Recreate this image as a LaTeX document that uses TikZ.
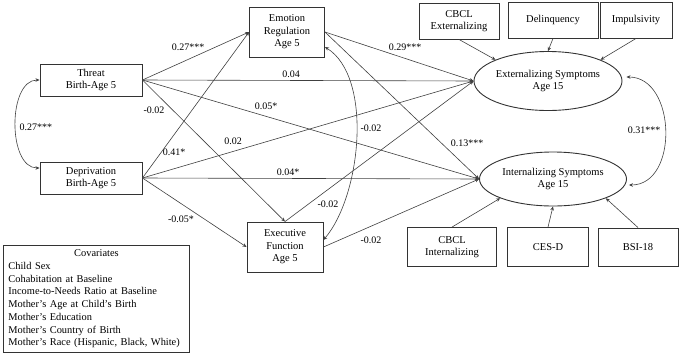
\documentclass[tikz,border=0pt]{standalone}
\usepackage{fontspec}
\setmainfont{Liberation Serif}
\usetikzlibrary{arrows.meta,shapes.geometric}
\tikzset{
  mbox/.style={
    rectangle,
    draw=black!80,
    line width=0.9pt,
    align=center,
    inner sep=1pt,
    font=\fontsize{10.5}{12.5}\selectfont
  },
  latent/.style={
    ellipse,
    draw=black!80,
    line width=0.9pt,
    align=center,
    inner sep=0pt,
    font=\fontsize{10.5}{12.5}\selectfont
  },
  covbox/.style={
    rectangle,
    draw=black!80,
    line width=0.9pt,
    align=left,
    text width=176pt,
    inner xsep=5pt,
    inner ysep=3pt,
    minimum height=107pt,
    font=\fontsize{10.4}{12.7}\selectfont
  },
  patharc/.style={
    -{Stealth[length=4pt,width=3.5pt]},
    draw=black!75,
    line width=0.6pt
  },
  covarc/.style={
    {Stealth[length=4pt,width=3.5pt]}-{Stealth[length=4pt,width=3.5pt]},
    draw=black!75,
    line width=0.6pt
  },
  coef/.style={
    font=\fontsize{10}{11}\selectfont,
    inner sep=1pt
  }
}

\begin{document}
\begin{tikzpicture}[x=1pt,y=-1pt]
  \useasboundingbox (0,0) rectangle (680,354);

  % predictors and mediators
  \node[mbox,minimum width=102pt,minimum height=32pt] (thr) at (91,80) {Threat\\Birth-Age 5};
  \node[mbox,minimum width=102pt,minimum height=32pt] (dep) at (91,178) {Deprivation\\Birth-Age 5};
  \node[mbox,minimum width=75pt,minimum height=50pt] (emo) at (287,32) {Emotion\\Regulation\\Age 5};
  \node[mbox,minimum width=76pt,minimum height=50pt] (exf) at (285,247) {Executive\\Function\\Age 5};

  % outcomes
  \node[latent,minimum width=148pt,minimum height=59pt] (ext) at (548,81) {Externalizing Symptoms\\Age 15};
  \node[latent,minimum width=147pt,minimum height=54pt] (int) at (553,179) {Internalizing Symptoms\\Age 15};

  % indicators
  \node[mbox,minimum width=80pt,minimum height=36pt] (cbe) at (459,21) {CBCL\\Externalizing};
  \node[mbox,minimum width=90pt,minimum height=36pt] (del) at (553,20) {Delinquency};
  \node[mbox,minimum width=72pt,minimum height=36pt] (imp) at (636,20) {Impulsivity};
  \node[mbox,minimum width=89pt,minimum height=39pt] (cbi) at (452,247) {CBCL\\Internalizing};
  \node[mbox,minimum width=81pt,minimum height=39pt] (cesd) at (548,247) {CES-D};
  \node[mbox,minimum width=80pt,minimum height=38pt] (bsi) at (638,247) {BSI-18};

  % covariates
  \node[covbox,anchor=north west] (cov) at (3,245) {\makebox[176pt]{Covariates}\\
    Child Sex\\
    Cohabitation at Baseline\\
    Income-to-Needs Ratio at Baseline\\
    Mother's Age at Child's Birth\\
    Mother's Education\\
    Mother's Country of Birth\\
    Mother's Race (Hispanic, Black, White)};

  % paths from threat and deprivation
  \draw[patharc] (thr.east) -- (emo.west);
  \draw[patharc] (thr.east) -- (ext.west);
  \draw[patharc] (thr.east) -- (int.west);
  \draw[patharc] (thr.east) -- (exf.north);
  \draw[patharc] (dep.east) -- (emo.west);
  \draw[patharc] (dep.east) -- (ext.west);
  \draw[patharc] (dep.east) -- (int.west);
  \draw[patharc] (dep.east) -- (exf.west);

  % paths from mediators
  \draw[patharc] (emo.east) -- (ext.west);
  \draw[patharc] (emo.east) -- (int.west);
  \draw[patharc] (exf.north) -- (ext.west);
  \draw[patharc] (exf.east) -- (int.west);

  % indicators
  \draw[patharc] (cbe.south) -- (ext.158);
  \draw[patharc] (del.south) -- (ext.north);
  \draw[patharc] (imp.south) -- (ext.22);
  \draw[patharc] (cbi.north) -- (int.200);
  \draw[patharc] (cesd.north) -- (int.south);
  \draw[patharc] (bsi.north) -- (int.340);

  % covariances
  \draw[covarc] (thr.west) .. controls +(-32,0) and +(-32,0) .. ([yshift=10pt]dep.west);
  \draw[covarc] ([yshift=-15pt]emo.east) .. controls +(48,30) and +(38,-45) .. ([yshift=7pt]exf.east);
  \draw[covarc] ([shift={(4pt,4pt)}]ext.east) .. controls +(50,0) and +(50,0) .. ([shift={(2pt,-6pt)}]int.east);

  % coefficients
  \node[coef] (kte) at (188,47) {0.27***};
  \node[coef] (ktx) at (291,74) {0.04};
  \node[coef] (kti) at (266,106) {0.05*};
  \node[coef] (ktf) at (154,110) {-0.02};
  \node[coef] (ktd) at (36,127) {0.27***};
  \node[coef] (kdx) at (233,141) {0.02};
  \node[coef] (kde) at (174,152) {0.41*};
  \node[coef] (kdi) at (288,172) {0.04*};
  \node[coef] (kdf) at (181,219) {-0.05*};
  \node[coef] (kex) at (405,47) {0.29***};
  \node[coef] (kei) at (467,143) {0.13***};
  \node[coef] (kef) at (371,128) {-0.02};
  \node[coef] (kxi) at (644,130) {0.31***};
  \node[coef] (kfx) at (328,204) {-0.02};
  \node[coef] (kfi) at (371,240) {-0.02};
\end{tikzpicture}
\end{document}
